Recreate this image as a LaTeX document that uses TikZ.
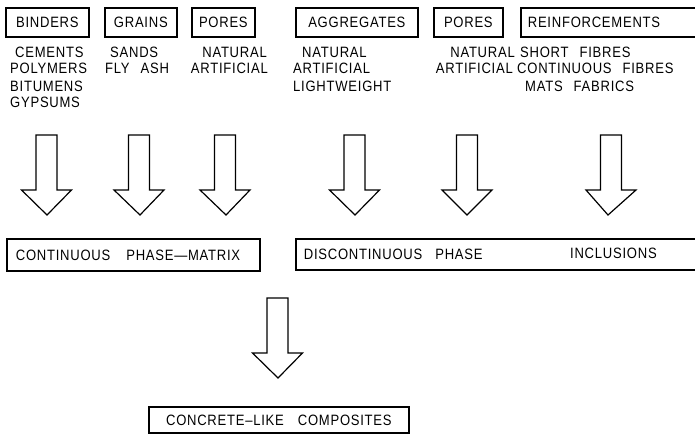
\documentclass[tikz,border=0pt]{standalone}
\usepackage{fontspec}
\setmainfont{Liberation Sans}[LetterSpace=5,WordSpace=2.5,FakeStretch=0.87]
\usetikzlibrary{calc}
\tikzset{
  txt/.style={font=\fontsize{15}{17}\selectfont},
  frame/.style={txt, draw, line width=1.7pt, minimum height=29pt, inner sep=0pt,
    anchor=north west},
  lbl/.style={txt, anchor=west, inner sep=0pt},
  rlbl/.style={lbl, anchor=east},
  harrow/.style={draw, line width=1.2pt, line join=miter},
}
\newcommand\blockarrow[2]{%
  \draw[harrow] let \p1=(#1), \p2=(#2) in
   (\x1-10.5pt,\y1) -- (\x1+10.5pt,\y1) -- (\x1+10.5pt,\y2+25pt) --
   (\x1+25pt,\y2+25pt) -- (\x2,\y2) -- (\x1-25pt,\y2+25pt) --
   (\x1-10.5pt,\y2+25pt) -- cycle;}
\begin{document}
\begin{tikzpicture}[x=1pt,y=-1pt]
\useasboundingbox (0,0) rectangle (695,439);
% top boxes
\node[frame, minimum width=83pt] (binders) at (5,7) {BINDERS};
\node[frame, minimum width=72pt] (grains) at (104,7) {GRAINS};
\node[frame, minimum width=63pt] (poresA) at (191,7) {PORES};
\node[frame, minimum width=122pt] (aggr) at (295,7) {AGGREGATES};
\node[frame, minimum width=69pt] (poresB) at (433,7) {PORES};
\node[frame, inner xsep=7pt, text width=220pt, align=left] (reinf) at (520,7) {REINFORCEMENTS};
% lists
\node[lbl] (b1) at (15,52) {CEMENTS};
\node[lbl] (b2) at (10,68.5) {POLYMERS};
\node[lbl] (b3) at (10,86) {BITUMENS};
\node[lbl] (b4) at (10,102) {GYPSUMS};
\node[lbl] (g1) at (110,52) {SANDS};
\node[lbl] (g2) at (105,68.5) {FLY ASH};
\node[rlbl] (p1) at (267,52) {NATURAL};
\node[rlbl] (p2) at (268,68.5) {ARTIFICIAL};
\node[lbl] (a1) at (302,52) {NATURAL};
\node[lbl] (a2) at (293,68.5) {ARTIFICIAL};
\node[lbl] (a3) at (293,86) {LIGHTWEIGHT};
\node[rlbl] (q1) at (515,52) {NATURAL};
\node[rlbl] (q2) at (513,68.5) {ARTIFICIAL};
\node[lbl] (r1) at (520,52) {SHORT FIBRES};
\node[lbl] (r2) at (517,68.5) {CONTINUOUS FIBRES};
\node[lbl] (r3) at (525,86) {MATS FABRICS};
% middle boxes
\node[frame, minimum height=32pt, inner xsep=9pt, text width=235pt, align=left] (cont) at (6,238) {CONTINUOUS\hspace{16pt}PHASE---MATRIX};
\node[frame, minimum height=31pt, inner xsep=8pt, text width=420pt, align=left] (disc) at (295,238) {DISCONTINUOUS\hspace{13pt}PHASE};
\node[lbl] (incl) at (570,253.5) {INCLUSIONS};
% bottom box
\node[frame, minimum height=26pt, minimum width=260pt] (conc) at (148,406) {CONCRETE--LIKE\hspace{14pt}COMPOSITES};
% arrows
\coordinate (s1) at (46.5,135); \coordinate (e1) at (47,215);
\coordinate (s2) at (139,135);  \coordinate (e2) at (140,215);
\coordinate (s3) at (225,135);  \coordinate (e3) at (226,215);
\coordinate (s4) at (354.5,135); \coordinate (e4) at (355,215);
\coordinate (s5) at (467,135);  \coordinate (e5) at (467,215);
\coordinate (s6) at (611,135);  \coordinate (e6) at (608,215);
\coordinate (s7) at (277.5,298); \coordinate (e7) at (278,378);
\blockarrow{s1}{e1}
\blockarrow{s2}{e2}
\blockarrow{s3}{e3}
\blockarrow{s4}{e4}
\blockarrow{s5}{e5}
\blockarrow{s6}{e6}
\blockarrow{s7}{e7}
\end{tikzpicture}
\end{document}
